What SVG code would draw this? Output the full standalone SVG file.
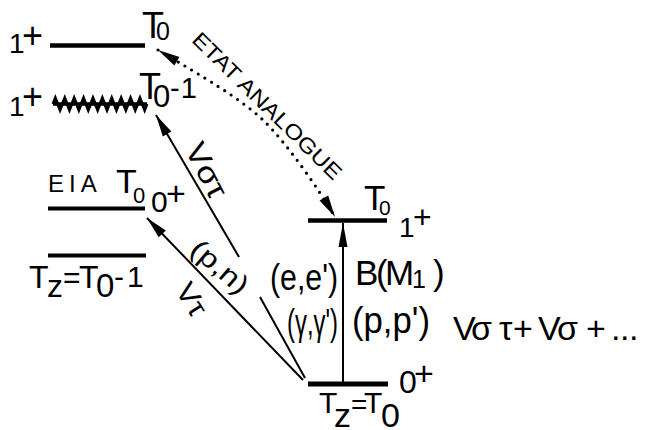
<svg xmlns="http://www.w3.org/2000/svg" width="648" height="430" viewBox="0 0 648 430">
<style>
text { font-family: "Liberation Sans", Arial, sans-serif; fill: #000; }
.lvl { stroke: #000; stroke-width: 4.5; fill: none; }
.arr { stroke: #000; stroke-width: 2; fill: none; }
.dot { stroke: #000; stroke-width: 3.2; stroke-linecap: round; stroke-dasharray: 0 7.8; fill: none; }
</style>
<defs>
<marker id="ah" markerUnits="userSpaceOnUse" viewBox="-24 -6 26 12" refX="0" refY="0" markerWidth="26" markerHeight="12" orient="auto-start-reverse">
<path d="M0,0 L-22,-5 L-22,5 Z" fill="#000"/>
</marker>
<marker id="ahv" markerUnits="userSpaceOnUse" viewBox="-26 -6 28 12" refX="0" refY="0" markerWidth="28" markerHeight="12" orient="auto">
<path d="M0,0 L-24,-4.5 L-24,4.5 Z" fill="#000"/>
</marker>
</defs>
<rect width="648" height="430" fill="#fff"/>

<g id="level-top-1plus">
<path class="lvl" d="M50,45.5 H145"/>
<text><tspan x="9" y="53" font-size="28">1</tspan><tspan x="22" y="48" font-size="36">+</tspan></text>
<text><tspan x="142" y="38" font-size="36">T</tspan><tspan x="156" y="40" font-size="25">0</tspan></text>
</g>

<g id="level-wavy-1plus">
<path class="lvl" style="stroke-width:3.5" d="M53,104 H147"/>
<path class="lvl" style="stroke-width:3" d="M53,104 l2.35,-6 l4.7,12 l2.35,-6 l2.35,-6 l4.7,12 l2.35,-6 l2.35,-6 l4.7,12 l2.35,-6 l2.35,-6 l4.7,12 l2.35,-6 l2.35,-6 l4.7,12 l2.35,-6 l2.35,-6 l4.7,12 l2.35,-6 l2.35,-6 l4.7,12 l2.35,-6 l2.35,-6 l4.7,12 l2.35,-6 l2.35,-6 l4.7,12 l2.35,-6 l2.35,-6 l4.7,12 l2.35,-6"/>
<text><tspan x="9" y="116" font-size="28">1</tspan><tspan x="22" y="109" font-size="36">+</tspan></text>
<text><tspan x="139" y="99" font-size="36">T</tspan><tspan x="153" y="107" font-size="31">0</tspan><tspan x="170" y="98" font-size="29" letter-spacing="1">-1</tspan></text>
</g>

<g id="level-eia-0plus">
<path class="lvl" style="stroke-width:4" d="M48,208.5 H145"/>
<text><tspan x="48" y="192" font-size="24" letter-spacing="5">EIA</tspan><tspan x="116" y="193" font-size="34">T</tspan><tspan x="133" y="203" font-size="22">0</tspan></text>
<text><tspan x="151" y="212" font-size="30">0</tspan><tspan x="166" y="205" font-size="34">+</tspan></text>
</g>

<g id="level-tz-t0-minus-1">
<path class="lvl" style="stroke-width:4" d="M48,255.5 H146"/>
<text><tspan x="29" y="288" font-size="32">T</tspan><tspan x="47" y="297" font-size="32">z</tspan><tspan x="63" y="288" font-size="30">=</tspan><tspan x="79" y="288" font-size="32">T</tspan><tspan x="96" y="297" font-size="33">0</tspan><tspan x="114" y="287" font-size="30" letter-spacing="3">-1</tspan></text>
</g>

<g id="level-analog-1plus">
<path class="lvl" d="M308,220.5 H387"/>
<text><tspan x="364" y="210" font-size="35">T</tspan><tspan x="379" y="215" font-size="21">0</tspan></text>
<text><tspan x="399" y="237" font-size="28">1</tspan><tspan x="413" y="228" font-size="32">+</tspan></text>
</g>

<g id="level-ground-0plus">
<path class="lvl" style="stroke-width:5" d="M308,384 H388"/>
<text><tspan x="399" y="393" font-size="32">0</tspan><tspan x="414" y="385" font-size="34">+</tspan></text>
<text><tspan x="319" y="413" font-size="30">T</tspan><tspan x="334" y="427" font-size="34">z</tspan><tspan x="351" y="414" font-size="28">=</tspan><tspan x="364" y="413" font-size="30">T</tspan><tspan x="381" y="427" font-size="34">0</tspan></text>
</g>

<g id="connectors">
<path class="dot" d="M158,50 C200,75 240,98 263,120 S318,188 335,217" marker-start="url(#ah)" marker-end="url(#ah)"/>
<path class="arr" d="M343,384 L343,223" marker-end="url(#ahv)"/>
<path class="arr" d="M239,257 L156,115" marker-end="url(#ah)"/>
<path class="arr" d="M303,380 L147,218" marker-end="url(#ah)"/>
<path class="arr" d="M260,297 L305,378"/>
<text transform="translate(262,111) rotate(44.5)" text-anchor="middle" font-size="21" textLength="200" lengthAdjust="spacingAndGlyphs">ETAT ANALOGUE</text>
<text transform="translate(197.5,174.9) rotate(63)" text-anchor="middle" font-size="30" textLength="58" lengthAdjust="spacingAndGlyphs">Vστ</text>
<text transform="translate(183.5,304.3) rotate(58)" text-anchor="middle" font-size="28" textLength="34" lengthAdjust="spacingAndGlyphs">Vτ</text>
<text transform="translate(213.9,273.8) rotate(41)" text-anchor="middle" font-size="27" textLength="67" lengthAdjust="spacingAndGlyphs">(p,n)</text>
<text x="270" y="290" font-size="36" textLength="68" lengthAdjust="spacingAndGlyphs">(e,e')</text>
<text y="285" font-size="35"><tspan x="355 376 385">B(M</tspan><tspan x="412" y="288" font-size="25">1</tspan><tspan x="433" y="285" font-size="35">)</tspan></text>
<text x="287" y="335" font-size="36" textLength="51" lengthAdjust="spacingAndGlyphs">(γ,γ')</text>
<text x="352" y="333" font-size="36" textLength="78" lengthAdjust="spacingAndGlyphs">(p,p')</text>
<text x="453 471 499 513 538 557 586 611 620 629" y="340" font-size="34">Vστ+Vσ+...</text>
</g>
</svg>
